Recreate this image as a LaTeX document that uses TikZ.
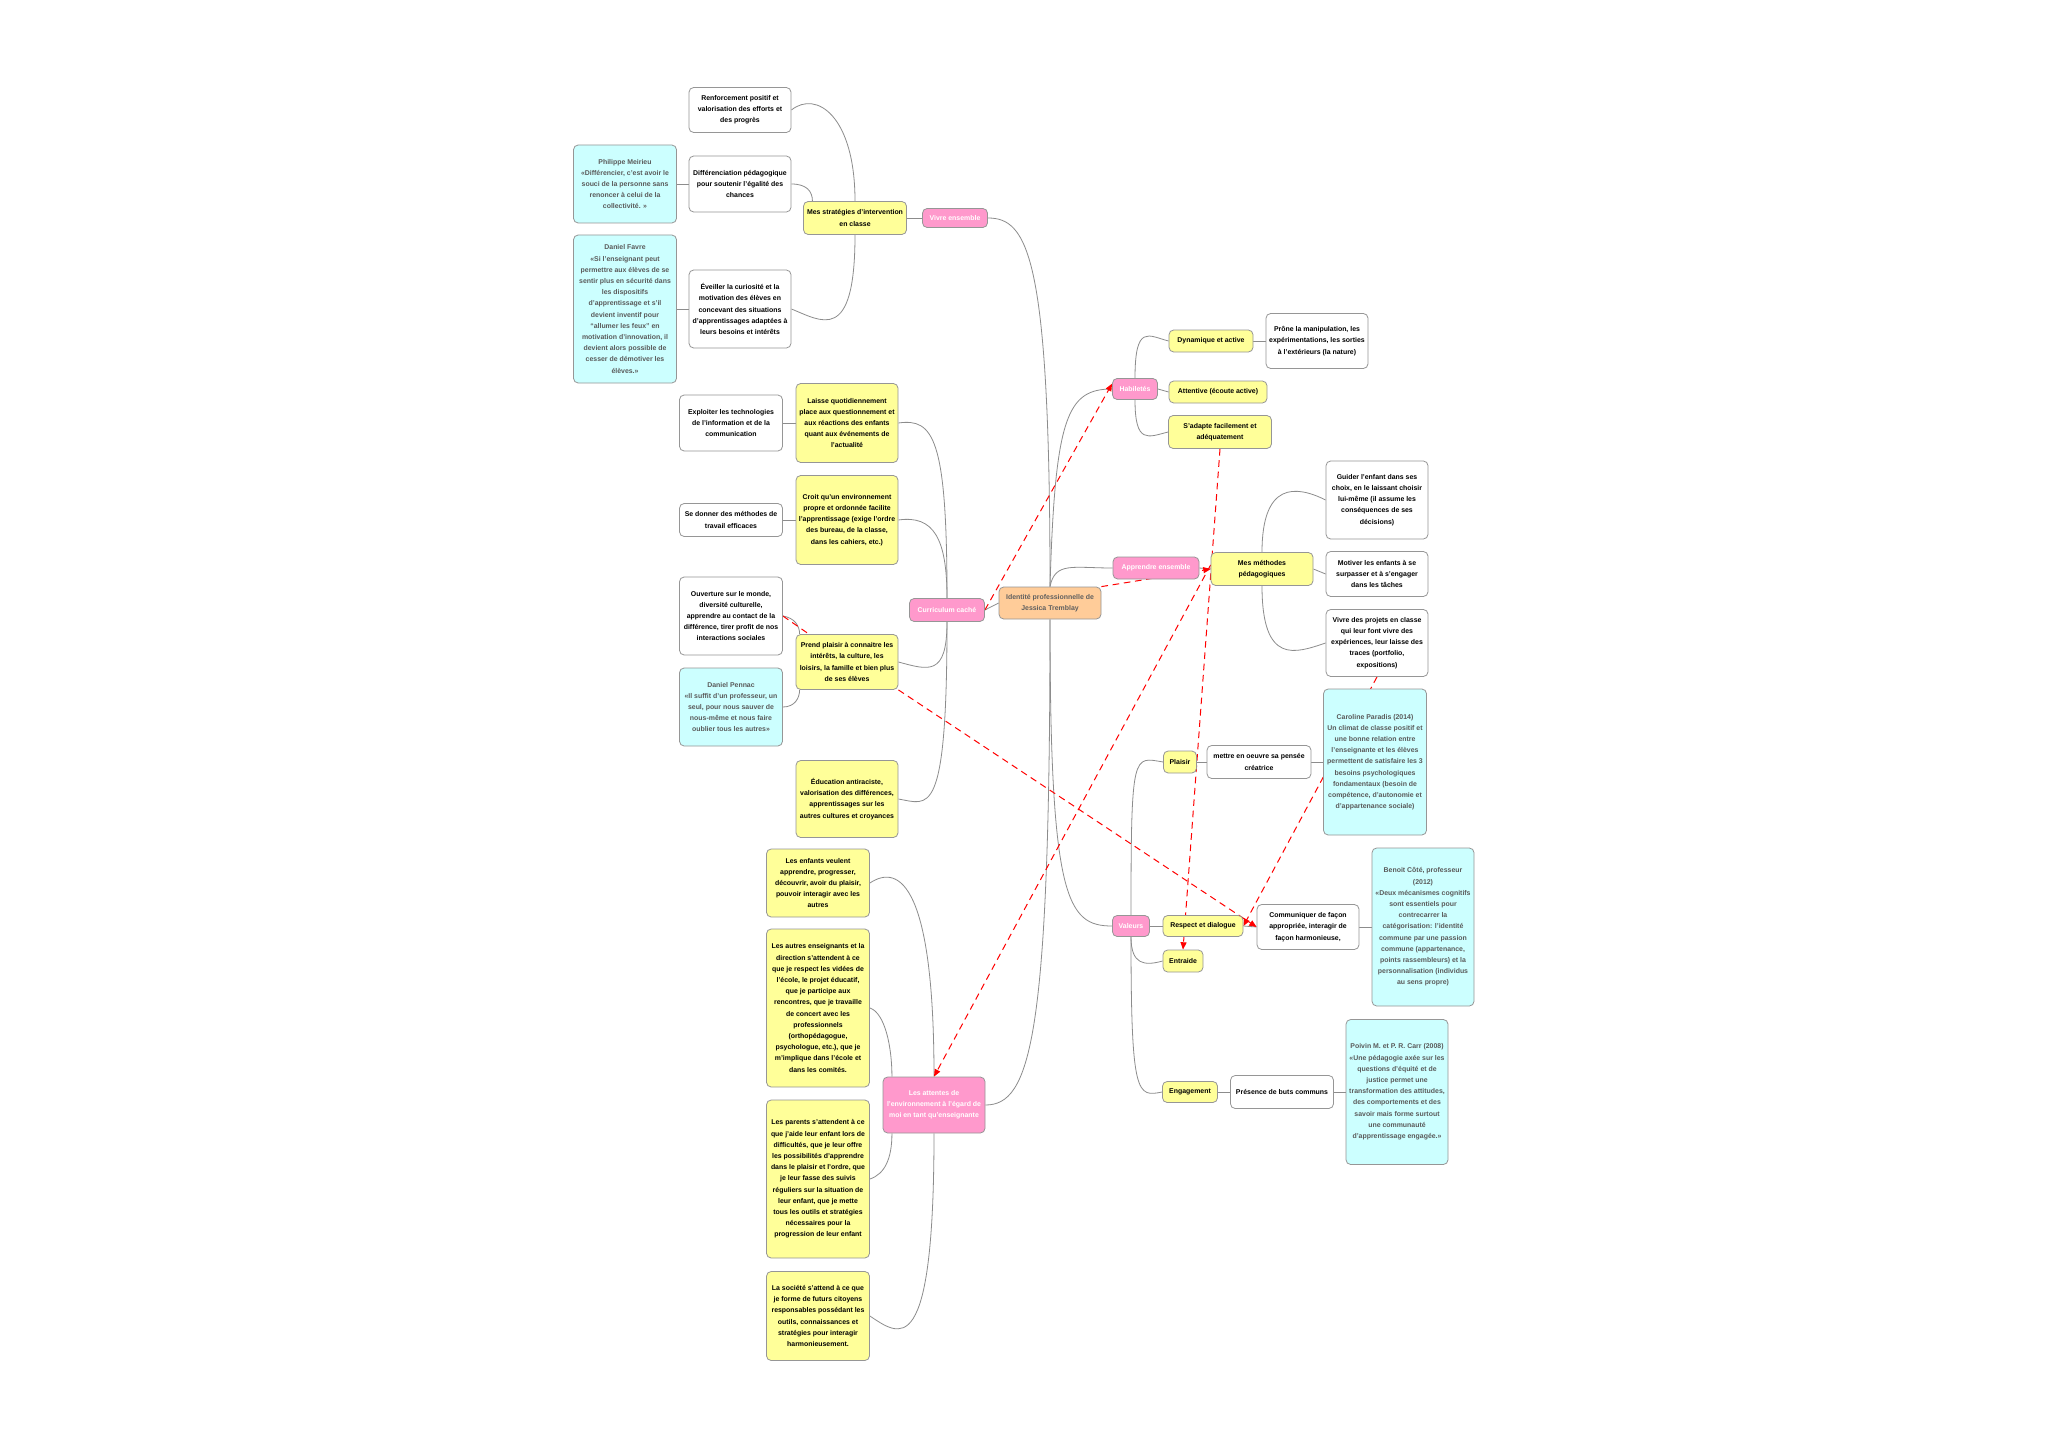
\documentclass[tikz,border=0pt]{standalone}
\usepackage{fontspec}
\setmainfont{Liberation Sans}
\usetikzlibrary{arrows.meta,backgrounds}

\definecolor{yel}{RGB}{255,255,153}
\definecolor{cya}{RGB}{204,255,255}
\definecolor{pnk}{RGB}{255,153,204}
\definecolor{org}{RGB}{255,204,153}
\definecolor{boxgray}{RGB}{150,150,150}
\definecolor{linegray}{RGB}{140,140,140}
\definecolor{quotegray}{RGB}{90,90,90}
\definecolor{titlegray}{RGB}{95,95,95}

\tikzset{every picture/.style={line width=0.75pt}}

\begin{document}
\begin{tikzpicture}[x=0.75pt,y=0.75pt,yscale=-1,xscale=1,
  box/.style={draw=boxgray,line width=0.6pt,rounded corners=3.5pt,align=center,inner sep=1pt,font=\fontsize{5.2}{8.4}\selectfont\bfseries},
  ybox/.style={box,fill=yel},
  wbox/.style={box,fill=white},
  cbox/.style={box,fill=cya,text=quotegray},
  pbox/.style={box,fill=pnk,text=white},
  obox/.style={box,fill=org,text=titlegray},
  sz/.style 2 args={minimum width=#1*0.75pt,minimum height=#2*0.75pt},
  conn/.style={draw=linegray,line width=0.6pt},
  link/.style={draw=red,line width=0.75pt,dash pattern=on 5pt off 3.5pt,-{Triangle[length=5.5pt,width=4.5pt]}}]

% Root
\node[obox,sz={102}{32}] (id) at (1050,603) {Identité professionnelle de\\Jessica Tremblay};

% Main branches
\node[pbox,sz={65}{19}] (ve) at (955,218) {Vivre ensemble};
\node[pbox,sz={45}{21}] (hab) at (1135,389) {Habiletés};
\node[pbox,sz={86}{22}] (ae) at (1156,568) {Apprendre ensemble};
\node[pbox,sz={75}{23}] (cc) at (947,610) {Curriculum caché};
\node[pbox,sz={37}{21}] (val) at (1131,926) {Valeurs};
\node[pbox,sz={102}{56}] (att) at (934,1105) {Les attentes de\\l'environnement à l'égard de\\moi en tant qu'enseignante};

% Vivre ensemble
\node[ybox,sz={103}{33}] (strat) at (855,218) {Mes stratégies d'intervention\\en classe};
\node[wbox,sz={102}{45}] (ren) at (740,110) {Renforcement positif et\\valorisation des efforts et\\des progrès};
\node[wbox,sz={102}{56}] (dif) at (740,184) {Différenciation pédagogique\\pour soutenir l'égalité des\\chances};
\node[wbox,sz={102}{78}] (ev) at (740,309) {Éveiller la curiosité et la\\motivation des élèves en\\concevant des situations\\d'apprentissages adaptées à\\leurs besoins et intérêts};
\node[cbox,sz={103}{78}] (mei) at (625,184) {Philippe Meirieu\\«Différencier, c'est avoir le\\souci de la personne sans\\renoncer à celui de la\\collectivité. »};
\node[cbox,sz={103}{148}] (fav) at (625,309) {Daniel Favre\\«Si l'enseignant peut\\permettre aux élèves de se\\sentir plus en sécurité dans\\les dispositifs\\d'apprentissage et s'il\\devient inventif pour\\“allumer les feux” en\\motivation d'innovation, il\\devient alors possible de\\cesser de démotiver les\\élèves.»};

% Curriculum cache
\node[ybox,sz={102}{79}] (lai) at (847,423) {Laisse quotidiennement\\place aux questionnement et\\aux réactions des enfants\\quant aux événements de\\l'actualité};
\node[ybox,sz={102}{89}] (cro) at (847,520) {Croit qu'un environnement\\propre et ordonnée facilite\\l'apprentissage (exige l'ordre\\des bureau, de la classe,\\dans les cahiers, etc.)};
\node[ybox,sz={102}{55}] (pre) at (847,662) {Prend plaisir à connaitre les\\intérêts, la culture, les\\loisirs, la famille et bien plus\\de ses élèves};
\node[ybox,sz={102}{77}] (edu) at (847,799) {Éducation antiraciste,\\valorisation des différences,\\apprentissages sur les\\autres cultures et croyances};
\node[wbox,sz={103}{56}] (exp) at (731,423) {Exploiter les technologies\\de l'information et de la\\communication};
\node[wbox,sz={103}{33}] (sed) at (731,520) {Se donner des méthodes de\\travail efficaces};
\node[wbox,sz={103}{78}] (ouv) at (731,616) {Ouverture sur le monde,\\diversité culturelle,\\apprendre au contact de la\\différence, tirer profit de nos\\interactions sociales};
\node[cbox,sz={103}{78}] (pen) at (731,707) {Daniel Pennac\\«Il suffit d'un professeur, un\\seul, pour nous sauver de\\nous-même et nous faire\\oublier tous les autres»};

% Les attentes
\node[ybox,sz={103}{68}] (enf) at (818,883) {Les enfants veulent\\apprendre, progresser,\\découvrir, avoir du plaisir,\\pouvoir interagir avec les\\autres};
\node[ybox,sz={103}{158}] (ens) at (818,1008) {Les autres enseignants et la\\direction s'attendent à ce\\que je respect les vidées de\\l'école, le projet éducatif,\\que je participe aux\\rencontres, que je travaille\\de concert avec les\\professionnels\\(orthopédagogue,\\psychologue, etc.), que je\\m'implique dans l'école et\\dans les comités.};
\node[ybox,sz={103}{158}] (par) at (818,1179) {Les parents s'attendent à ce\\que j'aide leur enfant lors de\\difficultés, que je leur offre\\les possibilités d'apprendre\\dans le plaisir et l'ordre, que\\je leur fasse des suivis\\réguliers sur la situation de\\leur enfant, que je mette\\tous les outils et stratégies\\nécessaires pour la\\progression de leur enfant};
\node[ybox,sz={103}{89}] (soc) at (818,1316) {La société s'attend à ce que\\je forme de futurs citoyens\\responsables possédant les\\outils, connaissances et\\stratégies pour interagir\\harmonieusement.};

% Habiletes
\node[ybox,sz={84}{22}] (dyn) at (1211,341) {Dynamique et active};
\node[ybox,sz={98}{22}] (atv) at (1218,392) {Attentive (écoute active)};
\node[ybox,sz={103}{33}] (ada) at (1220,432) {S'adapte facilement et\\adéquatement};
\node[wbox,sz={102}{55}] (pro) at (1317,341) {Prône la manipulation, les\\expérimentations, les sorties\\à l'extérieurs (la nature)};

% Apprendre ensemble
\node[ybox,sz={102}{33}] (met) at (1262,569) {Mes méthodes\\pédagogiques};
\node[wbox,sz={102}{78}] (gui) at (1377,500) {Guider l'enfant dans ses\\choix, en le laissant choisir\\lui-même (il assume les\\conséquences de ses\\décisions)};
\node[wbox,sz={102}{45}] (mot) at (1377,574) {Motiver les enfants à se\\surpasser et à s'engager\\dans les tâches};
\node[wbox,sz={102}{67}] (viv) at (1377,643) {Vivre des projets en classe\\qui leur font vivre des\\expériences, leur laisse des\\traces (portfolio,\\expositions)};

% Valeurs
\node[ybox,sz={33}{22}] (pla) at (1180,762) {Plaisir};
\node[ybox,sz={80}{21}] (res) at (1203,926) {Respect et dialogue};
\node[ybox,sz={40}{22}] (ent) at (1183,961) {Entraide};
\node[ybox,sz={55}{21}] (eng) at (1190,1092) {Engagement};
\node[wbox,sz={104}{33}] (mee) at (1259,762) {mettre en oeuvre sa pensée\\créatrice};
\node[wbox,sz={102}{45}] (com) at (1308,927) {Communiquer de façon\\appropriée, interagir de\\façon harmonieuse,};
\node[wbox,sz={103}{33}] (pbc) at (1282,1092) {Présence de buts communs};
\node[cbox,sz={103}{146}] (car) at (1375,762) {Caroline Paradis (2014)\\Un climat de classe positif et\\une bonne relation entre\\l'enseignante et les élèves\\permettent de satisfaire les 3\\besoins psychologiques\\fondamentaux (besoin de\\compétence, d'autonomie et\\d'appartenance sociale)};
\node[cbox,sz={102}{158}] (ben) at (1423,927) {Benoit Côté, professeur\\(2012)\\«Deux mécanismes cognitifs\\sont essentiels pour\\contrecarrer la\\catégorisation: l'identité\\commune par une passion\\commune (appartenance,\\points rassembleurs) et la\\personnalisation (individus\\au sens propre)};
\node[cbox,sz={102}{145}] (poi) at (1397,1092) {Poivin M. et P. R. Carr (2008)\\«Une pédagogie axée sur les\\questions d'équité et de\\justice permet une\\transformation des attitudes,\\des comportements et des\\savoir mais forme surtout\\une communauté\\d'apprentissage engagée.»};

\begin{scope}[on background layer]
\fill[white] (0,0) rectangle (2048,1448);

% Connection
\draw[conn] (id.north) .. controls +(0,-330) and +(40,0) .. (ve.east);
\draw[conn] (id.south) .. controls +(0,420) and +(45,0) .. (att.east);
\draw[conn] (id.west) -- (cc.east);
\draw[conn] (id.north) .. controls +(5,-170) and +(-45,0) .. (hab.west);
\draw[conn] (id.north) .. controls +(5,-25) and +(-40,0) .. (ae.west);
\draw[conn] (id.south) .. controls +(0,280) and +(-45,0) .. (val.west);

% Connection
\draw[conn] (ve.west) -- (strat.east);
\draw[conn] (strat.north) .. controls +(0,-85) and +(25,-20) .. (ren.east);
\draw[conn] (dif.east) .. controls +(15,0) and +(0,-10) .. ([xshift=7pt]strat.north west);
\draw[conn] (strat.south) .. controls +(0,110) and +(30,12) .. (ev.east);
\draw[conn] (dif.west) -- (mei.east);
\draw[conn] (ev.west) -- (fav.east);

% Connection
\draw[conn] (cc.north) .. controls +(0,-160) and +(35,-5) .. (lai.east);
\draw[conn] (cc.north) .. controls +(0,-60) and +(35,-5) .. (cro.east);
\draw[conn] (cc.south) .. controls +(0,55) and +(30,8) .. (pre.east);
\draw[conn] (cc.south) .. controls +(0,200) and +(30,5) .. (edu.east);
\draw[conn] (lai.west) -- (exp.east);
\draw[conn] (cro.west) -- (sed.east);
\draw[conn] (ouv.east) .. controls +(12,2) and +(0,-8) .. ([xshift=3pt]pre.north west);
\draw[conn] (pen.east) .. controls +(12,0) and +(0,8) .. ([xshift=3pt]pre.south west);

% Connection
\draw[conn] (att.north) .. controls +(0,-190) and +(30,-20) .. (enf.east);
\draw[conn] (ens.east) .. controls +(15,5) and +(0,-30) .. ([xshift=7pt]att.north west);
\draw[conn] (par.east) .. controls +(15,-5) and +(0,25) .. ([xshift=7pt]att.south west);
\draw[conn] (att.south) .. controls +(0,230) and +(30,20) .. (soc.east);

% Connection
\draw[conn] (hab.north) .. controls +(0,-55) and +(-20,-5) .. (dyn.west);
\draw[conn] (hab.east) -- (atv.west);
\draw[conn] (hab.south) .. controls +(0,45) and +(-20,5) .. (ada.west);
\draw[conn] (dyn.east) -- (pro.west);

% Connection
\draw[conn] (ae.east) -- (met.west);
\draw[conn] (met.north) .. controls +(0,-70) and +(-30,-15) .. (gui.west);
\draw[conn] (met.east) -- (mot.west);
\draw[conn] (met.south) .. controls +(0,80) and +(-30,10) .. (viv.west);

% Connection
\draw[conn] (val.north) .. controls +(0,-165) and +(-30,-5) .. (pla.west);
\draw[conn] (val.east) -- (res.west);
\draw[conn] (val.south) .. controls +(0,28) and +(-18,5) .. (ent.west);
\draw[conn] (val.south) .. controls +(0,160) and +(-25,5) .. (eng.west);
\draw[conn] (pla.east) -- (mee.west);
\draw[conn] (mee.east) -- (car.west);
\draw[conn] (res.east) -- (com.west);
\draw[conn] (com.east) -- (ben.west);
\draw[conn] (eng.east) -- (pbc.west);
\draw[conn] (pbc.east) -- (poi.west);

% Relations
\draw[link] (cc.east) -- ([yshift=-4pt]hab.west);
\draw[link] (id.north east) -- (met.west);
\draw[link] ([yshift=-3pt]met.west) -- (att.north);
\draw[link] (ada.south) -- (ent.north);
\draw[link] (pre.south east) -- (com.west);
\draw[link] (viv.south) -- (res.east);
\draw[link,-] (ouv.east) -- ([xshift=10pt]pre.north west);
\end{scope}

\end{tikzpicture}
\end{document}
